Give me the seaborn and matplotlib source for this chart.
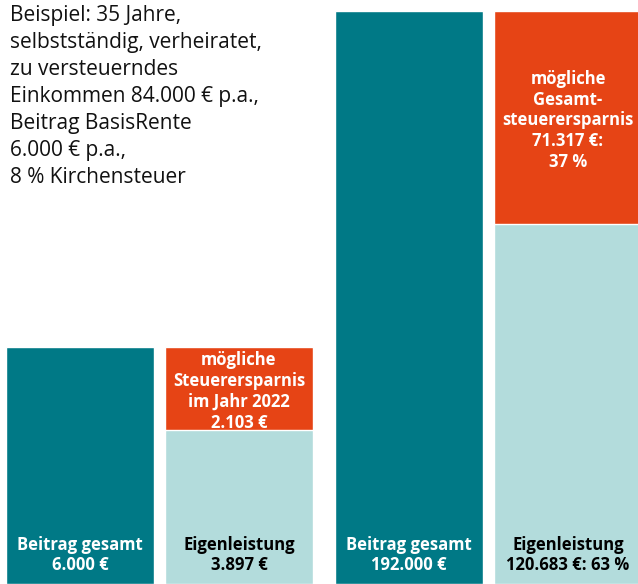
import pandas as pd
import seaborn as sns
import matplotlib.pyplot as plt

# values (EUR)
kategorien = ["Beitrag gesamt", "Eigenleistung"]
beitrag_jahr = 6000
eigen_jahr = 3897
ersparnis_jahr = 2103
beitrag_gesamt = 192000
eigen_gesamt = 120683
ersparnis_gesamt = 71317

info_text = ("Beispiel: 35 Jahre,\nselbstständig, verheiratet,\nzu versteuerndes\n"
             "Einkommen 84.000 € p.a.,\nBeitrag BasisRente\n6.000 € p.a.,\n8 % Kirchensteuer")

dunkel = "#007986"
hell = "#B3DCDC"
orange = "#E64415"

sns.set_style("white")
plt.rcParams["font.family"] = ["Open Sans", "DejaVu Sans"]

W, H = 638, 584
fig = plt.figure(figsize=(W / 100, H / 100), dpi=100)

pitch = 159
ax_h = 573 / H
ax_l = fig.add_axes([0.5 / W, 0, 2 * pitch / W, ax_h])
ax_r = fig.add_axes([329.5 / W, 0, 2 * pitch / W, ax_h])

def draw(ax, total, eigen, ymax):
    sns.barplot(x=kategorien, y=[total, total], order=kategorien,
                palette=[dunkel, orange], hue=kategorien, legend=False,
                width=148 / pitch, ax=ax, saturation=1)
    sns.barplot(x=[kategorien[1]], y=[eigen], order=kategorien,
                color=hell, width=148 / pitch, ax=ax, saturation=1)
    ax.set_xlim(-0.5, 1.5)
    ax.set_ylim(0, ymax)
    ax.axis("off")

# left pair uses its own scale (6.000 € ~ 237 px)
ymax_l = beitrag_jahr * 573 / 237
draw(ax_l, beitrag_jahr, eigen_jahr, ymax_l)
draw(ax_r, beitrag_gesamt, eigen_gesamt, beitrag_gesamt)

def fmt(v):
    return f"{v:,.0f}".replace(",", ".")

lab = dict(ha="center", va="center", fontsize=12, fontweight="bold", linespacing=1.2,
           textcoords="offset points")

def label(ax, x, y, txt, col, dy=0):
    ax.annotate(txt, (x, y), xytext=(0, dy), color=col, **lab)

# bottom labels
label(ax_l, 0, ymax_l * (29 / 573), f"Beitrag gesamt\n{fmt(beitrag_jahr)} €", "white")
label(ax_l, 1, ymax_l * (29 / 573), f"Eigenleistung\n{fmt(eigen_jahr)} €", "black")
label(ax_r, 0, beitrag_gesamt * (29 / 573), f"Beitrag gesamt\n{fmt(beitrag_gesamt)} €", "white")
label(ax_r, 1, beitrag_gesamt * (29 / 573),
      f"Eigenleistung\n{fmt(eigen_gesamt)} €: {round(eigen_gesamt / beitrag_gesamt * 100)} %", "black")

# savings labels, centred in orange segment
label(ax_l, 1, eigen_jahr + ersparnis_jahr / 2,
      f"mögliche\nSteuerersparnis\nim Jahr 2022\n{fmt(ersparnis_jahr)} €", "white", dy=-2.2)
label(ax_r, 1, eigen_gesamt + ersparnis_gesamt / 2,
      f"mögliche\nGesamt-\nsteuerersparnis\n{fmt(ersparnis_gesamt)} €:\n{round(ersparnis_gesamt / beitrag_gesamt * 100)} %",
      "white", dy=-2.2)

fig.text(10 / W, 1 - 5 / H, info_text, ha="left", va="top", fontsize=15, linespacing=1.38, color="#111111")

fig.savefig("out.png", dpi=100)
